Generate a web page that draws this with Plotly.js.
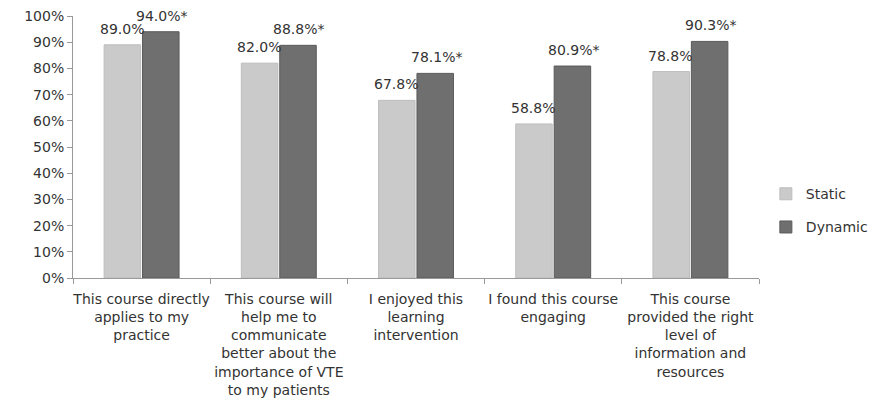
<!DOCTYPE html>
<html><head><meta charset="utf-8">
<script src="https://cdn.plot.ly/plotly-3.0.1.min.js"></script>
<style>html,body{margin:0;padding:0;background:#fff}#chart{width:876px;height:413px}</style>
</head><body><div id="chart"></div>
<script>
const categories = [
  "This course directly<br>applies to my<br>practice",
  "This course will<br>help me to<br>communicate<br>better about the<br>importance of VTE<br>to my patients",
  "I enjoyed this<br>learning<br>intervention",
  "I found this course<br>engaging",
  "This course<br>provided the right<br>level of<br>information and<br>resources"
];
const staticVals = [0.890, 0.820, 0.678, 0.588, 0.788];
const dynamicVals = [0.940, 0.888, 0.781, 0.809, 0.903];
const staticLabels = ["89.0%", "82.0%", "67.8%", "58.8%", "78.8%"];
const dynamicLabels = ["94.0%*", "88.8%*", "78.1%*", "80.9%*", "90.3%*"];

const font = {family: "DejaVu Sans, sans-serif", size: 14, color: "#333"};
const traces = [
  {type: "bar", name: "Static", x: categories, y: staticVals, legendgroup: "a",
   marker: {color: "#cacaca", line: {color: "#bdbdbd", width: 1}}, hoverinfo: "none"},
  {type: "bar", name: "Dynamic", x: categories, y: dynamicVals, legendgroup: "b",
   marker: {color: "#6f6f6f", line: {color: "#5a5a5a", width: 1}}, hoverinfo: "none"}
];
const annotations = [];
categories.forEach((c, i) => {
  annotations.push({x: c, y: staticVals[i], xref: "x", yref: "y", text: staticLabels[i],
    showarrow: false, xshift: -20, yshift: 6, yanchor: "bottom", font: font});
  annotations.push({x: c, y: dynamicVals[i], xref: "x", yref: "y", text: dynamicLabels[i],
    showarrow: false, xshift: 20, yshift: 6, yanchor: "bottom", font: font});
});
const layout = {
  width: 876, height: 413,
  margin: {l: 73, r: 117, t: 16, b: 135, autoexpand: false},
  paper_bgcolor: "#fff", plot_bgcolor: "#fff",
  font: font,
  barmode: "group", bargap: 0.44, bargroupgap: 0.05,
  showlegend: true,
  legend: {x: 1.01, xanchor: "left", y: 0.381, yanchor: "top", tracegroupgap: 12,
    font: font, bgcolor: "rgba(0,0,0,0)"},
  xaxis: {type: "category", tickangle: 0, showline: true, linecolor: "#999", linewidth: 1,
    ticks: "outside", tickson: "boundaries", ticklen: 5, tickcolor: "#999",
    ticklabelstandoff: 8, automargin: false,
    showgrid: false, zeroline: false, tickfont: font, fixedrange: true},
  yaxis: {range: [0, 1], dtick: 0.1, tickformat: ".0%", showline: true, linecolor: "#999",
    linewidth: 1, ticks: "outside", ticklen: 5, tickcolor: "#999", showgrid: false,
    automargin: false,
    zeroline: false, tickfont: font, fixedrange: true},
  annotations: annotations
};
Plotly.newPlot("chart", traces, layout, {displayModeBar: false, staticPlot: true});
</script></body></html>
